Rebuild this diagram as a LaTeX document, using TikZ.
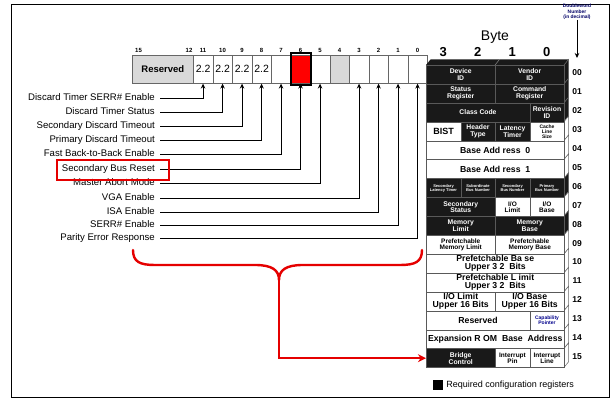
\documentclass[tikz,border=0pt]{standalone}
\usepackage{fontspec}
\setmainfont{Liberation Sans}
\usetikzlibrary{arrows.meta,calc,positioning}
\tikzset{cell/.style={draw=black!65,line width=0.5pt,anchor=north west,minimum height=18.9pt,inner sep=0pt,align=center},
  blk/.style={cell,fill=black!90,text=white,font=\fontsize{6.8}{6.8}\selectfont\bfseries},
  wht/.style={cell,fill=white,font=\fontsize{6.5}{6.5}\selectfont\bfseries},
  sml/.style={wht,font=\fontsize{5}{5}\selectfont\bfseries},
  capt/.style={sml,text=blue!55!black},
  tny/.style={blk,font=\fontsize{4}{4.2}\selectfont\bfseries},
  bst/.style={wht,font=\fontsize{9}{9}\selectfont\bfseries},
  bigt/.style={wht,font=\fontsize{8.7}{8}\selectfont\bfseries},
  bitcell/.style={draw=black!60,line width=0.6pt,anchor=north west,minimum width=19.5pt,minimum height=28pt,inner sep=0pt,font=\fontsize{10.5}{10.5}\selectfont},
  bitno/.style={inner sep=0pt,font=\fontsize{6}{6}\selectfont\bfseries},
  lbl/.style={anchor=east,inner sep=0pt,text height=7pt,text depth=2pt,font=\fontsize{9.6}{10}\selectfont},
  rowno/.style={inner sep=0pt,font=\fontsize{8.5}{8.5}\selectfont\bfseries},
  arr/.style={-{Stealth[length=5pt,width=4.5pt]},line width=0.8pt},
  redarr/.style={-{Stealth[length=8pt,width=8pt]},red!90!black,line width=2.4pt},
  brace/.style={red!90!black,line width=2.4pt,line cap=round,line join=round}}
\begin{document}
\begin{tikzpicture}[x=1pt,y=-1pt]
\useasboundingbox (0,0) rectangle (611,403);
\draw[line width=1pt] (11,5) rectangle (609,398);
\node[bitcell,minimum width=61pt,fill=black!15,font=\fontsize{9.5}{9.5}\selectfont\bfseries] (res) at (132,55) {Reserved};
\foreach \b/\f/\t in {11/white/2.2,10/white/2.2,9/white/2.2,8/white/2.2,7/white/{},6/red/{},5/white/{},4/black!15/{},3/white/{},2/white/{},1/white/{},0/white/{}}
  \node[bitcell,fill=\f] (b\b) at ({193+(11-\b)*19.5},55) {\t};
\draw[line width=2pt] ([yshift=1.5pt]b6.north west) rectangle ([yshift=-1.5pt]b6.south east);
\node[bitno,above right=2pt and 3pt of res.north west] (bn15) {15};
\node[bitno,above left=2pt and 1pt of res.north east] (bn12) {12};
\foreach \b in {0,...,11} \node[bitno,above=2pt of b\b.north] (bn\b) {\b};
\foreach \b/\y/\t in {11/98/Discard Timer SERR\# Enable,10/112/Discard Timer Status,9/126/Secondary Discard Timeout,8/140/Primary Discard Timeout,7/154/Fast Back-to-Back Enable,6/169/Secondary Bus Reset,5/183/Master Abort Mode,3/198/VGA Enable,2/212/ISA Enable,1/225/SERR\# Enable,0/238/Parity Error Response}{
  \node[lbl] (l\b) at (155,\y) {\t};
  \draw[arr] ([xshift=5pt]l\b.east) -| (b\b.south);}
\node[draw=red!90!black,line width=1.6pt,minimum width=112pt,minimum height=20pt,inner sep=0pt] (srb) at (113,170) {};
\fill[black!90] (426,65) -- (430.5,59.5) -- (568.5,59.5) -- (564,65) -- cycle;
\draw[black!40,line width=0.4pt] (495,65) -- (499.5,59.5);
\foreach \r/\f in {0/black!90,1/black!90,2/black!90,3/white,4/white,5/white,6/black!90,7/white,8/black!90,9/white,10/white,11/white,12/white,13/white,14/white,15/white}
  \filldraw[fill=\f,draw=black!60,line width=0.5pt] (564,{65+18.9*\r}) -- ++(4.5,-5.5) -- ++(0,18.9) -- ++(-4.5,5.5) -- cycle;
\foreach \r/\c/\s/\k/\t in {0/0/2/blk/{Device\\ID},0/2/2/blk/{Vendor\\ID},
  1/0/2/blk/{Status\\Register},1/2/2/blk/{Command\\Register},
  2/0/3/blk/{Class Code},2/3/1/blk/{Revision\\ID},
  3/0/1/bst/BIST,3/1/1/blk/{Header\\Type},3/2/1/blk/{Latency\\Timer},3/3/1/sml/{Cache\\Line\\Size},
  4/0/4/bigt/{Base Add ress~~0},5/0/4/bigt/{Base Add ress~~1},
  6/0/1/tny/{Secondary\\Latency Timer},6/1/1/tny/{Subordinate\\Bus Number},6/2/1/tny/{Secondary\\Bus Number},6/3/1/tny/{Primary\\Bus Number},
  7/0/2/blk/{Secondary\\Status},7/2/1/wht/{I/O\\Limit},7/3/1/wht/{I/O\\Base},
  8/0/2/blk/{Memory\\Limit},8/2/2/blk/{Memory\\Base},
  9/0/2/wht/{Prefetchable\\Memory Limit},9/2/2/wht/{Prefetchable\\Memory Base},
  10/0/4/bigt/{Prefetchable Ba se\\Upper 3 2~~Bits},11/0/4/bigt/{Prefetchable L imit\\Upper 3 2~~Bits},
  12/0/2/bigt/{I/O Limit\\Upper 16 Bits},12/2/2/bigt/{I/O Base\\Upper 16 Bits},
  13/0/3/bigt/Reserved,13/3/1/capt/{Capability\\Pointer},
  14/0/4/bigt/{Expansion R OM~~Base~~Address},
  15/0/2/blk/{Bridge\\Control},15/2/1/wht/{Interrupt\\Pin},15/3/1/wht/{Interrupt\\Line}}
  \node[\k,minimum width=\s*34.5pt] (r\r-\c) at ({426+34.5*\c},{65+18.9*\r}) {\t};
\foreach \r in {0,...,15} \node[rowno] (dn\r) at (577,{73+18.9*\r}) {\ifnum\r<10 0\fi\r};
\node[font=\fontsize{14}{14}\selectfont] (byte) at (495,37) {Byte};
\foreach \c/\n in {0/3,1/2,2/1,3/0} \node[font=\fontsize{13}{13}\selectfont\bfseries] (bh\n) at ({443.25+34.5*\c},52) {\n};
\node[align=center,inner sep=0pt,text=blue!40!black,font=\fontsize{4.9}{5.4}\selectfont\bfseries] (dw) at (577,12) {Doubleword\\Number\\(in decimal)};
\coordinate (dwend) at (577,58);
\draw[arr] (dw.south) -- (dwend);
\node[fill=black,minimum size=10pt,inner sep=0pt] (key) at (438,385) {};
\node[right=3pt of key,inner sep=0pt,font=\fontsize{9}{9}\selectfont] (keytxt) {Required configuration registers};
\draw[brace] (133,250) .. controls (133,262) and (140,265) .. (155,265) -- (255,265) .. controls (272,265) and (279,270) .. (279,280) .. controls (279,270) and (286,265) .. (303,265) -- (400,265) .. controls (415,265) and (422,262) .. (422,250);
\coordinate (bm) at (279,280);
\draw[redarr] (bm) |- (r15-0.west);
\end{tikzpicture}
\end{document}
